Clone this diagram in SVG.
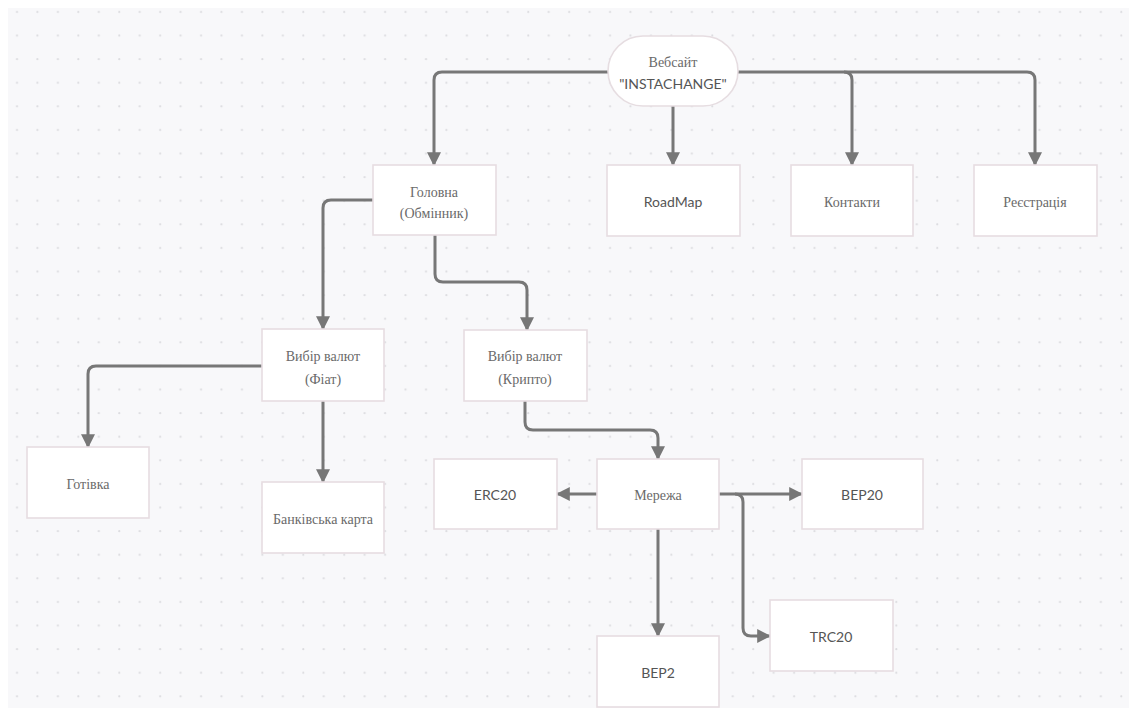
<svg xmlns="http://www.w3.org/2000/svg" width="1129" height="708" viewBox="0 0 1129 708">
<style>
.node rect{fill:#ffffff;stroke:#e6dde1;stroke-width:1.6}
.serif{font-family:"Liberation Serif","DejaVu Serif",serif;font-size:14px;fill:#6a6a6a;text-anchor:middle;dominant-baseline:central}
.sans{font-family:Lato,"Liberation Sans",sans-serif;font-size:14px;fill:#555;text-anchor:middle;dominant-baseline:central}
.edges path{fill:none;stroke:#777;stroke-width:3}
</style>
<defs>
<pattern id="dots" x="7" y="0" width="20.45" height="23.6" patternUnits="userSpaceOnUse">
<circle cx="10" cy="12" r="1.1" fill="#dcdce0"/>
</pattern>
<marker id="arr" viewBox="0 0 12 12" refX="11" refY="6" markerWidth="14" markerHeight="14" markerUnits="userSpaceOnUse" orient="auto">
<path d="M0,0 L12,6 L0,12 z" fill="#777"/>
</marker>
</defs>
<rect width="1129" height="708" fill="#ffffff"/>
<rect x="8" y="8" width="1121" height="700" fill="#f8f8fa"/>
<rect x="8" y="8" width="1121" height="700" fill="url(#dots)"/>
<g class="edges">
<path d="M608,72 H442 Q434,72 434,80 V165" marker-end="url(#arr)"/>
<path d="M738,72 H844 Q852,72 852,80 V165" marker-end="url(#arr)"/>
<path d="M844,72 H1027 Q1035,72 1035,80 V165" marker-end="url(#arr)"/>
<path d="M673,106 V165" marker-end="url(#arr)"/>
<path d="M373,200 H331 Q323,200 323,208 V329" marker-end="url(#arr)"/>
<path d="M435,235 V274 Q435,282 443,282 H519 Q527,282 527,290 V330" marker-end="url(#arr)"/>
<path d="M262,366 H96 Q88,366 88,374 V447" marker-end="url(#arr)"/>
<path d="M323,401 V482" marker-end="url(#arr)"/>
<path d="M525,401 V422 Q525,430 533,430 H650 Q658,430 658,438 V459" marker-end="url(#arr)"/>
<path d="M597,494 H557" marker-end="url(#arr)"/>
<path d="M719,494 H802" marker-end="url(#arr)"/>
<path d="M735,494 Q743,494 743,502 V628 Q743,636 751,636 H770" marker-end="url(#arr)"/>
<path d="M658,529 V636" marker-end="url(#arr)"/>
</g>
<g id="website" class="node">
<rect x="608" y="36" width="130" height="70" rx="35" ry="35"/>
<text class="serif" x="673" y="62">Вебсайт</text>
<text class="sans" x="673" y="83">"INSTACHANGE"</text>
</g>
<g id="home" class="node">
<rect x="373" y="165" width="123" height="70"/>
<text class="serif" x="434" y="192">Головна</text>
<text class="serif" x="434" y="213">(Обмінник)</text>
</g>
<g id="roadmap" class="node">
<rect x="607" y="165" width="133" height="71"/>
<text class="sans" x="673" y="201">RoadMap</text>
</g>
<g id="contacts" class="node">
<rect x="791" y="165" width="122" height="71"/>
<text class="serif" x="852" y="202">Контакти</text>
</g>
<g id="register" class="node">
<rect x="974" y="165" width="123" height="71"/>
<text class="serif" x="1035" y="202">Реєстрація</text>
</g>
<g id="fiat" class="node">
<rect x="262" y="329" width="122" height="72"/>
<text class="serif" x="323" y="356">Вибір валют</text>
<text class="serif" x="323" y="379">(Фіат)</text>
</g>
<g id="crypto" class="node">
<rect x="464" y="330" width="123" height="71"/>
<text class="serif" x="525" y="356">Вибір валют</text>
<text class="serif" x="525" y="379">(Крипто)</text>
</g>
<g id="cash" class="node">
<rect x="27" y="447" width="122" height="71"/>
<text class="serif" x="88" y="484">Готівка</text>
</g>
<g id="card" class="node">
<rect x="262" y="482" width="122" height="71"/>
<text class="serif" x="323" y="519">Банківська карта</text>
</g>
<g id="erc20" class="node">
<rect x="434" y="459" width="123" height="70"/>
<text class="sans" x="495" y="494">ERC20</text>
</g>
<g id="network" class="node">
<rect x="597" y="459" width="122" height="70"/>
<text class="serif" x="658" y="495">Мережа</text>
</g>
<g id="bep20" class="node">
<rect x="802" y="459" width="121" height="70"/>
<text class="sans" x="862" y="494">BEP20</text>
</g>
<g id="trc20" class="node">
<rect x="770" y="600" width="123" height="71"/>
<text class="sans" x="831" y="636">TRC20</text>
</g>
<g id="bep2" class="node">
<rect x="597" y="636" width="122" height="71"/>
<text class="sans" x="658" y="672">BEP2</text>
</g>
</svg>
